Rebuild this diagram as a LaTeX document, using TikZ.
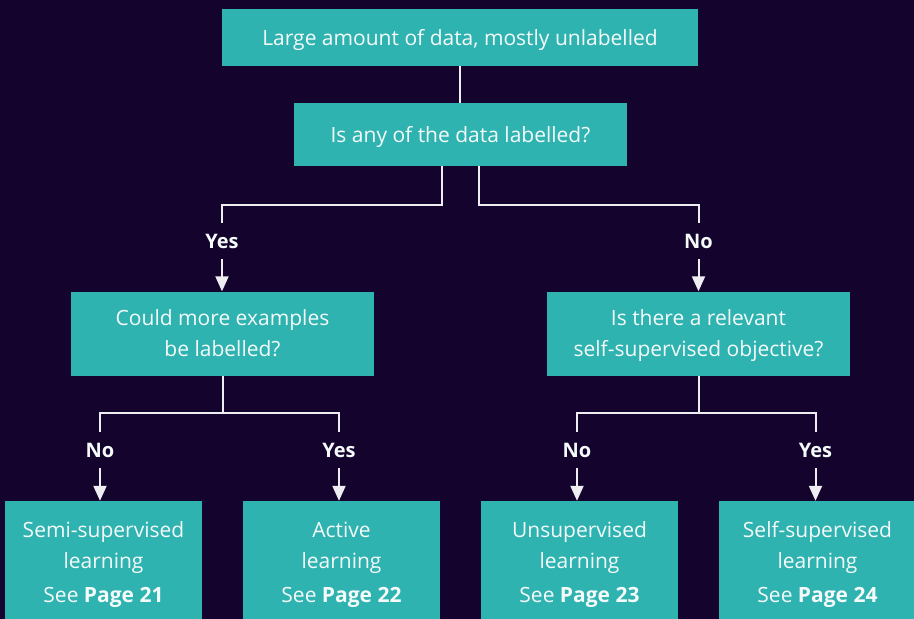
\documentclass[tikz,border=0pt]{standalone}
\usepackage{fontspec}
\setmainfont{Open Sans}
\usetikzlibrary{arrows.meta,calc}
\definecolor{bgpurple}{RGB}{20,3,45}
\definecolor{teal}{RGB}{46,179,176}
\definecolor{inkwhite}{RGB}{245,250,250}
\definecolor{wire}{RGB}{238,238,242}
\tikzset{
  box/.style={fill=teal, text=inkwhite, align=center, inner sep=0pt,
    text depth=0pt, font=\fontsize{21}{31}\selectfont},
  choice/.style={text=inkwhite, inner sep=0pt, minimum height=36pt,
    text depth=0pt, font=\fontsize{20}{22}\selectfont\bfseries},
  wireline/.style={draw=wire, line width=2pt},
  arrowline/.style={wireline, -{Triangle[width=13pt,length=15pt]}},
}
\begin{document}
\begin{tikzpicture}[x=1pt,y=-1pt]
  \fill[bgpurple] (0,0) rectangle (914,619);
  \useasboundingbox (0,0) rectangle (914,619);

  % question boxes
  \node[box, minimum width=476pt, minimum height=57pt] (start) at (460,37.5)
    {Large amount of data, mostly unlabelled};
  \node[box, minimum width=333pt, minimum height=63pt] (anylab) at (460.5,134.5)
    {Is any of the data labelled?};
  \node[box, minimum width=303pt, minimum height=84pt] (more) at (222.5,333.5)
    {Could more examples\\be labelled?};
  \node[box, minimum width=303pt, minimum height=84pt] (selfobj) at (698.5,333.5)
    {Is there a relevant\\self-supervised objective?};

  % outcome boxes (they run past the lower edge)
  \node[box, minimum width=197pt, minimum height=122pt] (semi) at (103.5,562)
    {Semi-supervised\\learning\\[3pt] See \textbf{Page 21}};
  \node[box, minimum width=197pt, minimum height=122pt] (active) at (341.5,562)
    {Active\\learning\\[3pt] See \textbf{Page 22}};
  \node[box, minimum width=197pt, minimum height=122pt] (unsup) at (579.5,562)
    {Unsupervised\\learning\\[3pt] See \textbf{Page 23}};
  \node[box, minimum width=197pt, minimum height=122pt] (selfsup) at (817.5,562)
    {Self-supervised\\learning\\[3pt] See \textbf{Page 24}};

  % branch labels
  \node[choice] (yesA) at (222,241) {Yes};
  \node[choice] (noA)  at (698.5,241) {No};
  \node[choice] (noB)  at (100,450) {No};
  \node[choice] (yesB) at (339,450) {Yes};
  \node[choice] (noC)  at (577,450) {No};
  \node[choice] (yesC) at (815.5,450) {Yes};

  % branch points
  \coordinate (splitA) at (0,205);
  \coordinate (splitB) at (0,413);

  % connectors
  \draw[wireline] (start.south) -- (start.south |- anylab.north);
  \draw[wireline] ($(anylab.south)+(-18.5,0)$) |- (splitA -| yesA) -- (yesA.north);
  \draw[wireline] ($(anylab.south)+(18.5,0)$) |- (splitA -| noA) -- (noA.north);
  \draw[arrowline] (yesA.south) -- (yesA.south |- more.north);
  \draw[arrowline] (noA.south) -- (noA.south |- selfobj.north);

  \draw[wireline] (more.south) -- (more.south |- splitB);
  \draw[wireline] (noB.north) |- (splitB -| yesB) -- (yesB.north);
  \draw[arrowline] (noB.south) -- (noB.south |- semi.north);
  \draw[arrowline] (yesB.south) -- (yesB.south |- active.north);

  \draw[wireline] (selfobj.south) -- (selfobj.south |- splitB);
  \draw[wireline] (noC.north) |- (splitB -| yesC) -- (yesC.north);
  \draw[arrowline] (noC.south) -- (noC.south |- unsup.north);
  \draw[arrowline] (yesC.south) -- (yesC.south |- selfsup.north);
\end{tikzpicture}
\end{document}
